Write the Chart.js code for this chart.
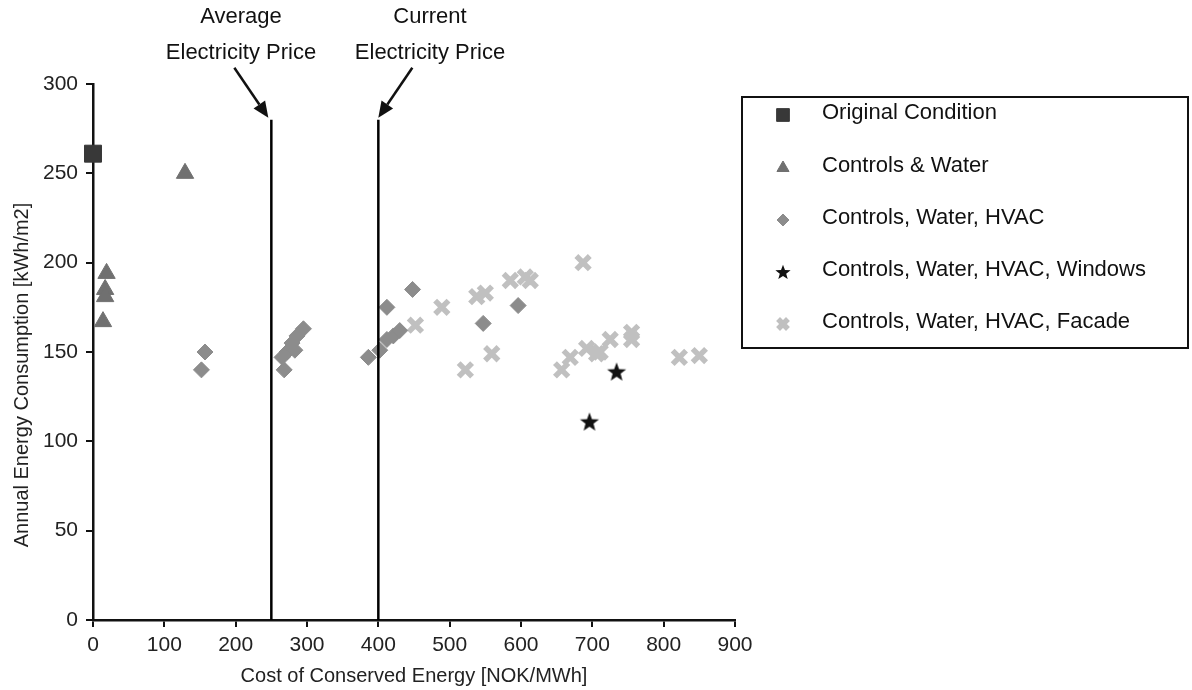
<!DOCTYPE html>
<html>
<head>
<meta charset="utf-8">
<script src="https://cdn.jsdelivr.net/npm/chart.js@4.4.1/dist/chart.umd.min.js"></script>
<style>
  html, body { margin: 0; padding: 0; background: #fff; }
  #wrap { width: 1192px; height: 690px; }
</style>
</head>
<body>
<div id="wrap"><canvas id="chart" width="1192" height="690"></canvas></div>
<script>
// measured points: [cost NOK/MWh, annual consumption kWh/m2]
const originalCondition = [[0, 261]];
const controlsWater = [[129, 250], [19, 194], [17, 185], [17, 181], [14, 167]];
const controlsWaterHvac = [
  [152, 140], [157, 150], [268, 140], [265, 147], [272, 150], [283, 151], [279, 155],
  [286, 159], [295, 163], [386, 147], [402, 151], [412, 157], [421, 159], [430, 162],
  [412, 175], [448, 185], [547, 166], [596, 176]
];
const controlsWaterHvacWindows = [[734, 139], [696, 111]];
const controlsWaterHvacFacade = [
  [452, 165], [489, 175], [522, 140], [538, 181], [550, 183], [559, 149], [585, 190],
  [606, 192], [613, 190], [657, 140], [669, 147], [687, 200], [692, 152], [706, 149],
  [711, 150], [725, 157], [755, 157], [755, 161], [822, 147], [850, 148]
];

const seriesNames = [
  'Original Condition',
  'Controls & Water',
  'Controls, Water, HVAC',
  'Controls, Water, HVAC, Windows',
  'Controls, Water, HVAC, Facade'
];

// electricity price reference lines
const priceLabels = [['Average', 'Electricity Price'], ['Current', 'Electricity Price']];
const priceValues = [250, 400];
const priceLineTop = 280;

const xTicks = [0, 100, 200, 300, 400, 500, 600, 700, 800, 900];
const yTicks = [0, 50, 100, 150, 200, 250, 300];

const xTitle = 'Cost of Conserved Energy [NOK/MWh]';
const yTitle = 'Annual Energy Consumption [kWh/m2]';

const FONT = "'Liberation Sans', Arial, sans-serif";

function toPoints(arr) {
  return arr.map(p => ({ x: p[0], y: p[1] }));
}

// filled five-point star, since the built-in 'star' is only an asterisk
function makeStar(r) {
  const c = document.createElement('canvas');
  const s = Math.ceil(r * 2 + 2);
  c.width = s; c.height = s;
  const g = c.getContext('2d');
  g.fillStyle = '#111';
  g.beginPath();
  for (let i = 0; i < 10; i++) {
    const rad = i % 2 === 0 ? r : r * 0.42;
    const a = -Math.PI / 2 + i * Math.PI / 5;
    const px = s / 2 + rad * Math.cos(a);
    const py = s / 2 + rad * Math.sin(a) + r * 0.08;
    if (i === 0) g.moveTo(px, py); else g.lineTo(px, py);
  }
  g.closePath();
  g.fill();
  return c;
}

const starImg = makeStar(10);
const starLegend = makeStar(8);

const markerStyles = [
  { pointStyle: 'rect', radius: 12, legendRadius: 9, backgroundColor: '#383838', borderColor: '#383838', borderWidth: 1 },
  { pointStyle: 'triangle', radius: 10, legendRadius: 7, backgroundColor: '#707070', borderColor: '#707070', borderWidth: 1 },
  { pointStyle: 'rectRot', radius: 8, legendRadius: 6, backgroundColor: '#8c8c8c', borderColor: '#8c8c8c', borderWidth: 1 },
  { pointStyle: starImg, legendStyle: starLegend, radius: 10, legendRadius: 8, backgroundColor: '#111', borderColor: '#111', borderWidth: 1 },
  { pointStyle: 'crossRot', radius: 9.5, legendRadius: 7, backgroundColor: '#c0c0c0', borderColor: '#c0c0c0', borderWidth: 5.5 }
];

const seriesData = [originalCondition, controlsWater, controlsWaterHvac, controlsWaterHvacWindows, controlsWaterHvacFacade];

const datasets = seriesData.map((d, i) => ({
  label: seriesNames[i],
  data: toPoints(d),
  pointStyle: markerStyles[i].pointStyle,
  pointRadius: markerStyles[i].radius,
  pointHoverRadius: markerStyles[i].radius,
  pointBackgroundColor: markerStyles[i].backgroundColor,
  pointBorderColor: markerStyles[i].borderColor,
  pointBorderWidth: markerStyles[i].borderWidth,
  showLine: false,
  clip: false,
  order: 2
}));

priceValues.forEach((v, i) => {
  datasets.push({
    label: priceLabels[i].join(' '),
    type: 'line',
    data: [{ x: v, y: 0 }, { x: v, y: priceLineTop }],
    borderColor: '#000',
    borderWidth: 2.5,
    pointRadius: 0,
    fill: false,
    order: 1
  });
});

// text and arrows above the price lines, plus the rotated y title
const priceAnnotations = {
  id: 'priceAnnotations',
  afterDatasetsDraw(chart) {
    const { ctx, scales: { x, y } } = chart;
    ctx.save();
    ctx.font = '22px ' + FONT;
    ctx.fillStyle = '#111';
    ctx.textAlign = 'center';
    ctx.textBaseline = 'middle';
    const textCenters = [241, 430];
    const dirs = [-1, 1];
    priceValues.forEach((v, i) => {
      const tipX = x.getPixelForValue(v) - 3 * (i === 0 ? 1 : 0);
      const tipY = y.getPixelForValue(priceLineTop) - 2;
      ctx.fillText(priceLabels[i][0], textCenters[i], 17);
      ctx.fillText(priceLabels[i][1], textCenters[i], 53);
      const tailX = tipX + dirs[i] * 34;
      const tailY = tipY - 50;
      const ang = Math.atan2(tipY - tailY, tipX - tailX);
      const headLen = 16, headW = 7;
      const bx = tipX - headLen * Math.cos(ang);
      const by = tipY - headLen * Math.sin(ang);
      ctx.strokeStyle = '#111';
      ctx.lineWidth = 2.5;
      ctx.beginPath();
      ctx.moveTo(tailX, tailY);
      ctx.lineTo(bx, by);
      ctx.stroke();
      ctx.beginPath();
      ctx.moveTo(tipX, tipY);
      ctx.lineTo(bx + headW * Math.sin(ang), by - headW * Math.cos(ang));
      ctx.lineTo(bx - headW * Math.sin(ang), by + headW * Math.cos(ang));
      ctx.closePath();
      ctx.fill();
    });

    ctx.translate(22, 375);
    ctx.rotate(-Math.PI / 2);
    ctx.font = '20px ' + FONT;
    ctx.fillStyle = '#222';
    ctx.fillText(yTitle, 0, 0);
    ctx.restore();
  }
};

// boxed legend on the right
const boxedLegend = {
  id: 'boxedLegend',
  afterDraw(chart) {
    const { ctx } = chart;
    const box = { left: 742, top: 97, right: 1188, bottom: 348 };
    const rows = [113, 166, 218, 270, 322];
    ctx.save();
    ctx.fillStyle = '#fff';
    ctx.fillRect(box.left, box.top, box.right - box.left, box.bottom - box.top);
    ctx.strokeStyle = '#111';
    ctx.lineWidth = 2;
    ctx.strokeRect(box.left, box.top, box.right - box.left, box.bottom - box.top);
    ctx.font = '22px ' + FONT;
    ctx.textAlign = 'left';
    ctx.textBaseline = 'middle';
    seriesNames.forEach((name, i) => {
      const st = markerStyles[i];
      ctx.fillStyle = st.backgroundColor;
      ctx.strokeStyle = st.borderColor;
      ctx.lineWidth = st.borderWidth;
      Chart.helpers.drawPoint(ctx, {
        pointStyle: st.legendStyle || st.pointStyle,
        radius: st.legendRadius,
        rotation: 0,
        borderWidth: i === 4 ? 4.5 : st.borderWidth
      }, 783, rows[i] + 2);
      ctx.fillStyle = '#111';
      ctx.fillText(name, 822, rows[i]);
    });
    ctx.restore();
  }
};

new Chart(document.getElementById('chart'), {
  type: 'scatter',
  data: { datasets },
  plugins: [priceAnnotations, boxedLegend],
  options: {
    responsive: false,
    animation: false,
    events: [],
    layout: { padding: { top: 84, right: 457, bottom: 0, left: 0 } },
    plugins: {
      legend: { display: false },
      tooltip: { enabled: false }
    },
    scales: {
      x: {
        type: 'linear',
        min: 0,
        max: 900,
        afterFit: s => { s.height = 70; },
        afterBuildTicks: s => { s.ticks = xTicks.map(v => ({ value: v })); },
        grid: { drawOnChartArea: false, drawTicks: true, tickLength: 7, color: '#111', lineWidth: 2 },
        border: { color: '#111', width: 2.5 },
        ticks: { color: '#222', font: { family: FONT, size: 21 }, padding: 6, maxRotation: 0 },
        title: {
          display: true,
          text: xTitle,
          color: '#222',
          font: { family: FONT, size: 20 },
          padding: { top: 0, bottom: 2 }
        }
      },
      y: {
        type: 'linear',
        min: 0,
        max: 300,
        afterFit: s => { s.width = 93; },
        afterBuildTicks: s => { s.ticks = yTicks.map(v => ({ value: v })); },
        grid: { drawOnChartArea: false, drawTicks: true, tickLength: 7, color: '#111', lineWidth: 2 },
        border: { color: '#111', width: 2.5 },
        ticks: { color: '#222', font: { family: FONT, size: 21 }, padding: 8 },
        title: { display: false }
      }
    }
  }
});
</script>
</body>
</html>
